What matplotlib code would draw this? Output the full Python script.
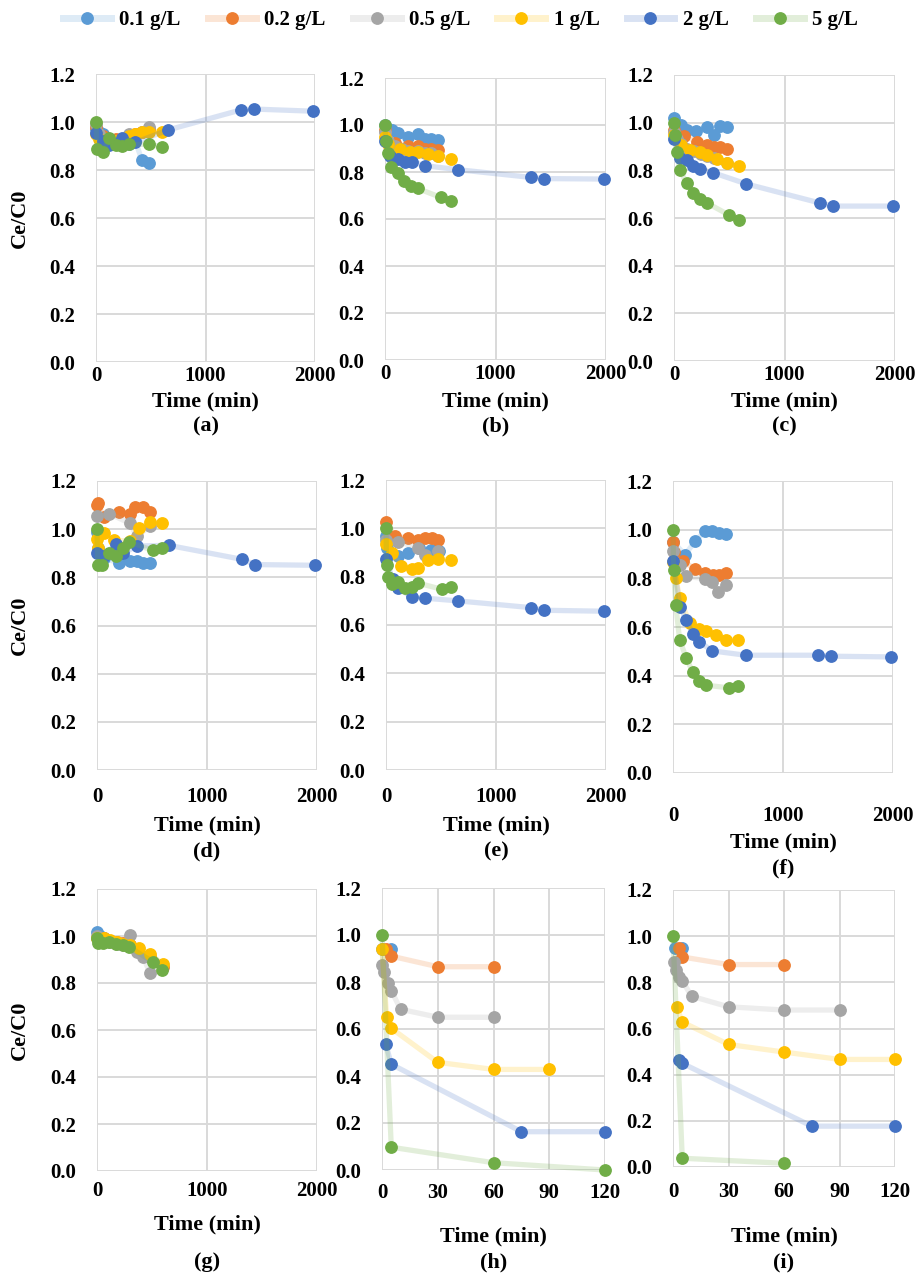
import numpy as np
import matplotlib
matplotlib.use("Agg")
import matplotlib.pyplot as plt
from matplotlib.lines import Line2D
from matplotlib.colors import to_rgba

plt.rcParams["font.family"] = ["Liberation Serif", "DejaVu Serif"]
plt.rcParams["font.weight"] = "bold"

labels = ["0.1 g/L", "0.2 g/L", "0.5 g/L", "1 g/L", "2 g/L", "5 g/L"]
colors = ["#5B9BD5", "#ED7D31", "#A5A5A5", "#FFC000", "#4472C4", "#70AD47"]

# ---- (a) ----
a_01 = ([0, 30, 60, 120, 180, 240, 300, 360, 420, 480], [0.97, 0.96, 0.95, 0.93, 0.92, 0.91, 0.91, 0.92, 0.84, 0.83])
a_02 = ([0, 30, 60, 120, 180, 240, 300, 360, 420, 480], [0.98, 0.95, 0.94, 0.93, 0.93, 0.93, 0.94, 0.95, 0.96, 0.97])
a_05 = ([0, 30, 60, 120, 180, 240, 300, 360, 420, 480], [0.99, 0.95, 0.93, 0.92, 0.92, 0.93, 0.95, 0.94, 0.96, 0.98])
a_1 = ([0, 30, 60, 120, 180, 240, 300, 360, 420, 480, 600], [0.95, 0.93, 0.92, 0.92, 0.92, 0.93, 0.94, 0.95, 0.96, 0.96, 0.96])
a_2 = ([0, 60, 120, 180, 240, 360, 660, 1320, 1440, 1980], [0.955, 0.92, 0.905, 0.91, 0.935, 0.915, 0.967, 1.05, 1.054, 1.045])
a_5 = ([0, 10, 60, 120, 180, 240, 300, 480, 600], [1.0, 0.886, 0.876, 0.932, 0.904, 0.90, 0.907, 0.907, 0.897])

# ---- (b) ----
b_01 = ([0, 60, 120, 210, 300, 360, 420, 480], [1.0, 0.979, 0.965, 0.948, 0.962, 0.94, 0.942, 0.936])
b_02 = ([0, 90, 210, 300, 360, 420, 480], [0.98, 0.923, 0.912, 0.91, 0.90, 0.90, 0.894])
b_05 = ([0, 30, 90, 150, 210, 300, 360, 420, 480], [0.97, 0.93, 0.91, 0.90, 0.89, 0.89, 0.88, 0.88, 0.87])
b_1 = ([0, 30, 135, 225, 300, 390, 480, 600], [0.95, 0.919, 0.897, 0.886, 0.883, 0.876, 0.868, 0.857])
b_2 = ([0, 45, 120, 180, 240, 360, 660, 1320, 1440, 1980], [0.93, 0.87, 0.854, 0.844, 0.844, 0.827, 0.81, 0.777, 0.772, 0.77])
b_5 = ([0, 5, 25, 55, 115, 175, 235, 295, 505, 595], [1.0, 0.93, 0.88, 0.823, 0.797, 0.762, 0.74, 0.73, 0.692, 0.678])

# ---- (c) ----
c_01 = ([0, 60, 120, 200, 300, 360, 420, 480], [1.02, 0.99, 0.97, 0.963, 0.98, 0.95, 0.985, 0.98])
c_02 = ([0, 30, 90, 210, 300, 360, 420, 480], [0.97, 0.95, 0.945, 0.92, 0.905, 0.90, 0.897, 0.89])
c_05 = ([0, 30, 60, 120, 180, 240, 300, 360, 480], [0.96, 0.93, 0.91, 0.89, 0.88, 0.87, 0.86, 0.85, 0.83])
c_1 = ([0, 60, 145, 235, 295, 385, 480, 590], [0.95, 0.908, 0.886, 0.876, 0.865, 0.847, 0.832, 0.82])
c_2 = ([0, 55, 115, 175, 235, 355, 655, 1320, 1440, 1980], [0.93, 0.85, 0.843, 0.817, 0.805, 0.79, 0.743, 0.663, 0.65, 0.65])
c_5 = ([0, 10, 25, 55, 115, 175, 235, 295, 500, 590], [0.997, 0.95, 0.876, 0.80, 0.745, 0.705, 0.678, 0.664, 0.612, 0.592])

# ---- (d) ----
d_01 = ([0, 10, 60, 200, 300, 360, 420, 480], [0.99, 0.92, 0.88, 0.86, 0.866, 0.866, 0.86, 0.858])
d_02 = ([0, 5, 60, 200, 300, 345, 415, 480], [1.10, 1.11, 1.05, 1.07, 1.065, 1.09, 1.09, 1.07])
d_05 = ([0, 110, 300, 360, 480], [1.054, 1.065, 1.024, 0.97, 1.012])
d_1 = ([0, 10, 60, 150, 300, 385, 480, 590], [0.96, 0.92, 0.985, 0.955, 0.95, 1.003, 1.03, 1.024])
d_2 = ([0, 60, 170, 240, 360, 650, 1315, 1440, 1980], [0.90, 0.89, 0.937, 0.90, 0.93, 0.933, 0.875, 0.853, 0.85])
d_5 = ([0, 5, 45, 110, 170, 235, 295, 505, 595], [1.0, 0.853, 0.853, 0.90, 0.89, 0.92, 0.947, 0.912, 0.922])

# ---- (e) ----
e_01 = ([0, 10, 110, 200, 300, 410, 480], [0.97, 0.92, 0.885, 0.897, 0.92, 0.91, 0.906])
e_02 = ([0, 80, 200, 295, 355, 415, 475], [1.027, 0.968, 0.96, 0.95, 0.96, 0.96, 0.95])
e_05 = ([0, 110, 295, 355, 475], [0.95, 0.945, 0.92, 0.89, 0.906])
e_1 = ([0, 50, 140, 235, 295, 385, 475, 595], [0.937, 0.90, 0.845, 0.83, 0.835, 0.867, 0.873, 0.868])
e_2 = ([0, 60, 110, 235, 355, 650, 1315, 1435, 1980], [0.872, 0.79, 0.755, 0.714, 0.711, 0.70, 0.672, 0.661, 0.657])
e_5 = ([0, 5, 20, 50, 110, 175, 235, 295, 505, 595], [1.0, 0.848, 0.80, 0.77, 0.78, 0.755, 0.759, 0.773, 0.748, 0.756])

# ---- (f) ----
f_01 = ([0, 110, 200, 290, 350, 420, 480], [0.95, 0.897, 0.952, 0.993, 0.993, 0.986, 0.982])
f_02 = ([0, 10, 95, 200, 290, 360, 420, 480], [0.948, 0.91, 0.87, 0.838, 0.82, 0.815, 0.815, 0.822])
f_05 = ([0, 65, 120, 290, 350, 410, 480], [0.911, 0.856, 0.808, 0.799, 0.785, 0.742, 0.774])
f_1 = ([0, 25, 60, 150, 240, 300, 390, 480, 595], [0.866, 0.801, 0.72, 0.617, 0.592, 0.582, 0.569, 0.548, 0.545])
f_2 = ([0, 65, 120, 180, 240, 355, 660, 1320, 1440, 1980], [0.87, 0.681, 0.63, 0.571, 0.54, 0.502, 0.484, 0.484, 0.48, 0.477])
f_5 = ([0, 5, 25, 60, 120, 180, 240, 300, 505, 595], [1.0, 0.836, 0.692, 0.548, 0.473, 0.414, 0.377, 0.361, 0.35, 0.356])

# ---- (g) ----
g_01 = ([0, 30, 60, 120, 180, 240, 300], [1.018, 1.0, 0.99, 0.98, 0.97, 0.965, 0.96])
g_02 = ([0, 60, 120, 180, 240, 300, 360, 480, 600], [0.99, 0.99, 0.98, 0.975, 0.97, 0.96, 0.94, 0.91, 0.87])
g_05 = ([0, 60, 120, 180, 240, 300, 360, 420, 480], [1.0, 0.985, 0.975, 0.965, 0.96, 1.004, 0.93, 0.91, 0.844])
g_1 = ([0, 60, 120, 180, 240, 300, 385, 480, 600], [0.99, 0.99, 0.985, 0.975, 0.965, 0.96, 0.95, 0.923, 0.88])
g_5 = ([0, 5, 50, 110, 175, 235, 295, 505, 595], [0.99, 0.972, 0.969, 0.976, 0.966, 0.962, 0.952, 0.891, 0.855])

# ---- (h) ----
h_01 = ([0, 5], [0.94, 0.94])
h_02 = ([2, 5, 30, 60], [0.94, 0.91, 0.865, 0.865])
h_05 = ([0, 1, 3, 5, 10, 30, 60], [0.872, 0.844, 0.795, 0.763, 0.684, 0.65, 0.65])
h_1 = ([0, 2.5, 5, 30, 60, 90], [0.94, 0.65, 0.603, 0.458, 0.428, 0.428])
h_2 = ([2, 5, 75, 120], [0.536, 0.45, 0.163, 0.163])
h_5 = ([0, 5, 60, 120], [1.0, 0.097, 0.031, 0.0])

# ---- (i) ----
i_01 = ([1, 5], [0.95, 0.95])
i_02 = ([3, 5, 30, 60], [0.95, 0.91, 0.877, 0.877])
i_05 = ([0.5, 1.5, 3, 5, 10, 30, 60, 90], [0.889, 0.853, 0.824, 0.807, 0.74, 0.694, 0.68, 0.68])
i_1 = ([2, 5, 30, 60, 90, 120], [0.694, 0.628, 0.531, 0.498, 0.466, 0.466])
i_2 = ([3, 5, 75, 120], [0.463, 0.449, 0.177, 0.177])
i_5 = ([0, 5, 60], [1.0, 0.038, 0.016])

W, H = 921, 1275
fig = plt.figure(figsize=(W / 100, H / 100), dpi=100)


def box(x0, x1, y0, y1):
    return [x0 / W, 1 - y1 / H, (x1 - x0) / W, (y1 - y0) / H]


# letter, series, pixel box (x0, x1, ytop, ybottom), long time axis?, xtick pad, xlabel y, letter y
panels = [
    ("a", [a_01, a_02, a_05, a_1, a_2, a_5], (96, 315, 74, 362), True, 3, 401, 426),
    ("b", [b_01, b_02, b_05, b_1, b_2, b_5], (385, 606, 78, 360), True, 3, 401, 426),
    ("c", [c_01, c_02, c_05, c_1, c_2, c_5], (674, 895, 75, 361), True, 3, 401, 426),
    ("d", [d_01, d_02, d_05, d_1, d_2, d_5], (97, 317, 481, 770), True, 12, 825, 851),
    ("e", [e_01, e_02, e_05, e_1, e_2, e_5], (386, 606, 480, 770), True, 12, 825, 851),
    ("f", [f_01, f_02, f_05, f_1, f_2, f_5], (673, 893, 481, 773), True, 24, 842, 868),
    ("g", [g_01, g_02, g_05, g_1, None, g_5], (97, 317, 889, 1171), True, 7, 1224, 1262),
    ("h", [h_01, h_02, h_05, h_1, h_2, h_5], (382, 605, 888, 1170), False, 9, 1236, 1262),
    ("i", [i_01, i_02, i_05, i_1, i_2, i_5], (673, 895, 890, 1167), False, 11, 1236, 1262),
]

for letter, series, (x0, x1, y0, y1), long_t, xpad, xl_y, let_y in panels:
    ax = fig.add_axes(box(x0, x1, y0, y1))
    for k, s in enumerate(series):
        if s is None:
            continue
        t, v = s
        ax.plot(t, v, color=colors[k], alpha=0.2, lw=3.8, solid_capstyle="round",
                zorder=2 + 2 * k, clip_on=False)
        ax.plot(t, v, ls="none", marker="o", ms=8.2, color=colors[k],
                zorder=3 + 2 * k, clip_on=False)
    ax.set_ylim(0, 1.2)
    ax.set_yticks(np.arange(0, 1.21, 0.2))
    ax.set_yticklabels([f"{y:.1f}" for y in np.arange(0, 1.21, 0.2)])
    if long_t:
        ax.set_xlim(0, 2000)
        ax.set_xticks([0, 1000, 2000])
    else:
        ax.set_xlim(0, 120)
        ax.set_xticks([0, 30, 60, 90, 120])
    ax.grid(True, color="#D9D9D9", lw=1.4)
    ax.set_axisbelow(True)
    for sp in ax.spines.values():
        sp.set_visible(False)
    ax.tick_params(axis="both", length=0, labelsize=15)
    ax.tick_params(axis="y", pad=15)
    ax.tick_params(axis="x", pad=xpad)
    xc = (x0 + x1) / 2
    fig.text(xc / W, 1 - xl_y / H, "Time (min)", ha="center", va="center", fontsize=16)
    fig.text(xc / W, 1 - let_y / H, f"({letter})", ha="center", va="center", fontsize=16)
    if letter in ("a", "d", "g"):
        fig.text(20 / W, 1 - (y0 + y1) / 2 / H, "Ce/C0", rotation=90,
                 ha="center", va="center", fontsize=16)

handles = [
    Line2D([], [], color=to_rgba(c, 0.2), lw=5, marker="o", ms=8.2, mfc=c, mec=c)
    for c in colors
]
fig.legend(handles, labels, loc="center", bbox_to_anchor=(0.5, 1 - 20 / H), ncol=6,
           frameon=False, fontsize=15, handlelength=2.3, handletextpad=0.4,
           columnspacing=1.3)

fig.savefig("out.png", dpi=100)
